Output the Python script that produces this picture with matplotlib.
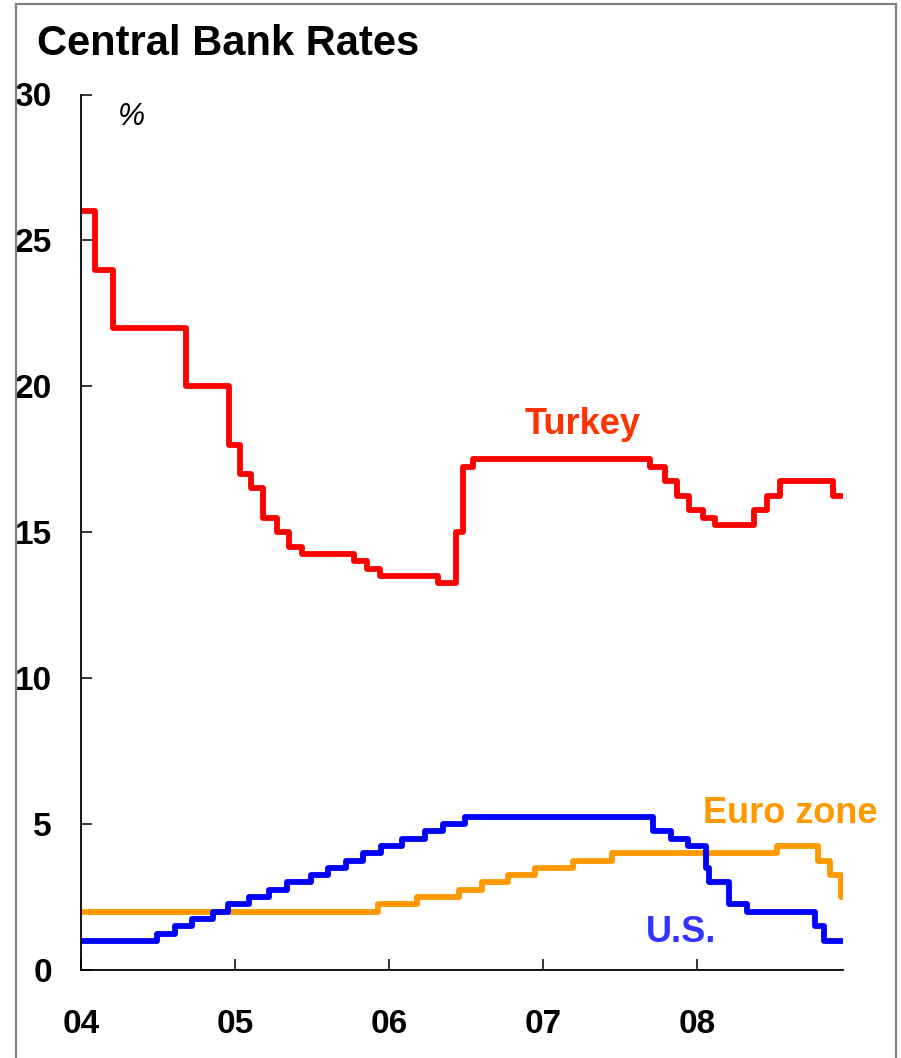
import matplotlib.pyplot as plt
import matplotlib.dates as mdates
import numpy as np
from matplotlib.patches import Rectangle

plt.rcParams['font.family'] = ['Liberation Sans', 'DejaVu Sans']
plt.rcParams['font.weight'] = 'bold'

# Policy rate change dates and levels (step series)
turkey_dates = ['2004-01-01', '2004-02-04', '2004-03-17', '2004-09-06', '2004-12-18',
                '2005-01-12', '2005-02-08', '2005-03-08', '2005-04-10', '2005-05-08',
                '2005-06-09', '2005-10-10', '2005-11-10', '2005-12-10', '2006-04-26',
                '2006-06-08', '2006-06-25', '2006-07-20', '2007-09-13', '2007-10-18',
                '2007-11-15', '2007-12-13', '2008-01-17', '2008-02-14', '2008-05-15',
                '2008-06-16', '2008-07-17', '2008-11-20', '2008-12-11']
turkey_rates = [26, 24, 22, 20, 18,
                17, 16.5, 15.5, 15, 14.5,
                14.25, 14, 13.75, 13.5, 13.25,
                15, 17.25, 17.5, 17.25, 16.75,
                16.25, 15.75, 15.5, 15.25, 15.75,
                16.25, 16.75, 16.25, 16.25]

us_dates = ['2004-01-01', '2004-06-30', '2004-08-10', '2004-09-21', '2004-11-10',
            '2004-12-14', '2005-02-02', '2005-03-22', '2005-05-03', '2005-06-30',
            '2005-08-09', '2005-09-20', '2005-11-01', '2005-12-13', '2006-01-31',
            '2006-03-28', '2006-05-10', '2006-06-29', '2007-09-18', '2007-10-31',
            '2007-12-11', '2008-01-22', '2008-01-30', '2008-03-18', '2008-04-30',
            '2008-10-08', '2008-10-29', '2008-12-11']
us_rates = [1.0, 1.25, 1.5, 1.75, 2.0,
            2.25, 2.5, 2.75, 3.0, 3.25,
            3.5, 3.75, 4.0, 4.25, 4.5,
            4.75, 5.0, 5.25, 4.75, 4.5,
            4.25, 3.5, 3.0, 2.25, 2.0,
            1.5, 1.0, 1.0]

euro_dates = ['2004-01-01', '2005-12-06', '2006-03-08', '2006-06-15', '2006-08-09',
              '2006-10-11', '2006-12-13', '2007-03-14', '2007-06-13', '2008-07-09',
              '2008-10-15', '2008-11-12', '2008-12-09', '2008-12-11']
euro_rates = [2.0, 2.25, 2.5, 2.75, 3.0,
              3.25, 3.5, 3.75, 4.0, 4.25,
              3.75, 3.25, 2.5, 2.5]

fig = plt.figure(figsize=(9.01, 10.58), dpi=100)
ax = fig.add_axes([81 / 901, 1 - 970 / 1058, (843 - 81) / 901, (970 - 94.5) / 1058])

line_kw = dict(where='post', lw=4.2, solid_capstyle='round')
ax.step(np.array(euro_dates, dtype='datetime64[D]'), euro_rates, color='#FF9900', **line_kw)
ax.step(np.array(us_dates, dtype='datetime64[D]'), us_rates, color='#0000FF', **line_kw)
ax.step(np.array(turkey_dates, dtype='datetime64[D]'), turkey_rates, color='#FF0000', **line_kw)

ax.set_xlim(np.datetime64('2004-01-01'), np.datetime64('2008-12-13'))
ax.set_ylim(0, 30)
ax.set_yticks([0, 5, 10, 15, 20, 25, 30])
ax.xaxis.set_major_locator(mdates.YearLocator())
ax.xaxis.set_major_formatter(mdates.DateFormatter('%y'))

for s in ['top', 'right']:
    ax.spines[s].set_visible(False)
for s in ['left', 'bottom']:
    ax.spines[s].set_linewidth(1.3)

ax.tick_params(axis='x', direction='in', length=8, width=1.1, pad=28, labelsize=24)
ax.tick_params(axis='y', direction='in', length=8, width=1.1, pad=21, labelsize=24)

# series labels
ax.text(np.datetime64('2007-04-05'), 18.37, 'Turkey', color='#FF3300',
        fontsize=26, ha='center', va='baseline')
ax.text(np.datetime64('2008-01-15'), 5.04, 'Euro zone', color='#FF9900',
        fontsize=26, ha='left', va='baseline')
ax.text(np.datetime64('2007-09-03'), 0.96, 'U.S.', color='#3333FF',
        fontsize=26, ha='left', va='baseline')

fig.text(37 / 901, 1 - 55 / 1058, 'Central Bank Rates', fontsize=30,
         ha='left', va='baseline')
fig.text(118 / 901, 1 - 125 / 1058, '%', fontsize=22, fontweight='normal',
         style='italic', ha='left', va='baseline')

# gray frame around the chart
fig.patches.append(Rectangle((16 / 901, -0.01), (896 - 16) / 901, 1 - 4 / 1058 + 0.01,
                             transform=fig.transFigure, fill=False,
                             edgecolor='#7F7F7F', lw=1.6))

fig.savefig('out.png', dpi=100)
